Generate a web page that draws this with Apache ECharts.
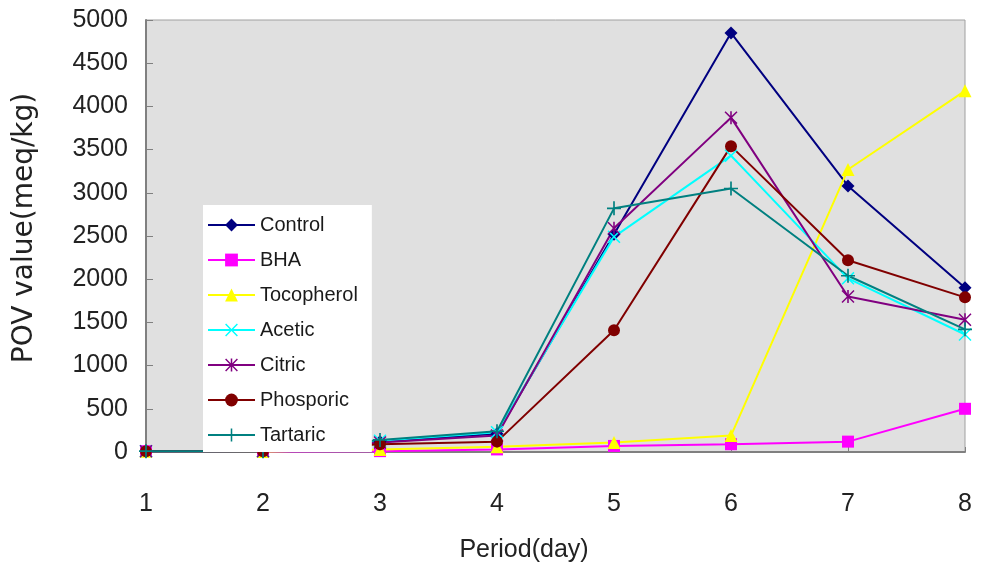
<!DOCTYPE html>
<html>
<head>
<meta charset="utf-8">
<script src="https://cdn.jsdelivr.net/npm/echarts@6/dist/echarts.min.js"></script>
<style>
  html, body { margin: 0; padding: 0; background: #ffffff; }
  #chart { width: 982px; height: 572px; }
</style>
</head>
<body>
<div id="chart"></div>
<script>
// Storage period (days) and peroxide values (meq/kg) per treatment
const days = ['1', '2', '3', '4', '5', '6', '7', '8'];
const yTicks = [0, 500, 1000, 1500, 2000, 2500, 3000, 3500, 4000, 4500, 5000];

const control    = [10, 10, 120, 210, 2520, 4850, 3080, 1900];
const bha        = [10, 5, 10, 30, 70, 90, 120, 500];
const tocopherol = [10, 5, 30, 60, 110, 190, 3270, 4180];
const acetic     = [10, 10, 130, 230, 2490, 3430, 2010, 1360];
const citric     = [10, 10, 110, 190, 2590, 3870, 1800, 1530];
const phosporic  = [10, 10, 90, 120, 1410, 3540, 2220, 1790];
const tartaric   = [10, 10, 140, 240, 2820, 3050, 2040, 1420];

// Stroke-like marker shapes built as thin filled polygons
const PLUS = 'path://M4.4,0 H5.6 V4.4 H10 V5.6 H5.6 V10 H4.4 V5.6 H0 V4.4 H4.4 Z';
const CROSS = 'path://M0.8,0 L5,4.2 L9.2,0 L10,0.8 L5.8,5 L10,9.2 L9.2,10 L5,5.8 L0.8,10 L0,9.2 L4.2,5 L0,0.8 Z';
const STAR = 'path://M0.8,0 L4.4,3.6 V0 H5.6 V3.6 L9.2,0 L10,0.8 L5.8,5 L10,9.2 L9.2,10 L5.6,6.4 V10 H4.4 V6.4 L0.8,10 L0,9.2 L4.2,5 L0,0.8 Z';

const seriesDefs = [
  { name: 'Control',    data: control,    color: '#000080', symbol: 'diamond',  size: 13 },
  { name: 'BHA',        data: bha,        color: '#ff00ff', symbol: 'rect',     size: 12 },
  { name: 'Tocopherol', data: tocopherol, color: '#ffff00', symbol: 'triangle', size: 13 },
  { name: 'Acetic',     data: acetic,     color: '#00ffff', symbol: CROSS,      size: 13 },
  { name: 'Citric',     data: citric,     color: '#800080', symbol: STAR,       size: 13 },
  { name: 'Phosporic',  data: phosporic,  color: '#800000', symbol: 'circle',   size: 12 },
  { name: 'Tartaric',   data: tartaric,   color: '#008080', symbol: PLUS,       size: 14 }
];

const FONT = 'Liberation Sans';

const chart = echarts.init(document.getElementById('chart'), null, { renderer: 'canvas' });

chart.setOption({
  animation: false,
  backgroundColor: '#ffffff',
  grid: {
    left: 146, right: 17, top: 20, bottom: 120,
    show: true,
    backgroundColor: '#e0e0e0',
    borderColor: '#a0a0a0',
    borderWidth: 1
  },
  legend: {
    orient: 'vertical',
    left: 203, top: 205,
    z: 10,
    padding: [10, 14, 7, 4],
    backgroundColor: '#ffffff',
    itemWidth: 47,
    itemHeight: 16,
    itemGap: 15,
    textStyle: { fontFamily: FONT, fontSize: 20, color: '#1a1a1a', height: 20, lineHeight: 20 },
    data: seriesDefs.map(s => s.name)
  },
  xAxis: {
    type: 'category',
    data: days,
    boundaryGap: false,
    axisLine: { lineStyle: { color: '#808080', width: 2 } },
    axisTick: { show: true, inside: true, length: 5, alignWithLabel: true, lineStyle: { color: '#808080' } },
    axisLabel: { fontFamily: FONT, fontSize: 25, color: '#222222', margin: 40 },
    splitLine: { show: false }
  },
  yAxis: {
    type: 'value',
    min: yTicks[0],
    max: yTicks[yTicks.length - 1],
    interval: yTicks[1] - yTicks[0],
    axisLine: { show: true, lineStyle: { color: '#808080', width: 2 } },
    axisTick: { show: true, inside: true, length: 7, lineStyle: { color: '#808080' } },
    axisLabel: {
      fontFamily: FONT, fontSize: 25, color: '#222222', margin: 18,
      formatter: v => String(v)
    },
    splitLine: { show: false }
  },
  graphic: [
    {
      type: 'text',
      x: 25, y: 228,
      rotation: Math.PI / 2,
      style: {
        text: 'POV value(meq/kg)',
        fontFamily: 'DejaVu Sans', fontSize: 28, fill: '#222222',
        align: 'center', verticalAlign: 'middle'
      }
    },
    {
      type: 'text',
      x: 524, y: 550,
      style: {
        text: 'Period(day)',
        fontFamily: FONT, fontSize: 25, fill: '#222222',
        align: 'center', verticalAlign: 'middle'
      }
    }
  ],
  series: seriesDefs.map(s => ({
    name: s.name,
    type: 'line',
    data: s.data,
    symbol: s.symbol,
    symbolSize: s.size,
    showAllSymbol: true,
    clip: false,
    color: s.color,
    lineStyle: { color: s.color, width: 2 },
    itemStyle: { color: s.color, borderWidth: 0 },
    emphasis: { disabled: true }
  }))
});
</script>
</body>
</html>
